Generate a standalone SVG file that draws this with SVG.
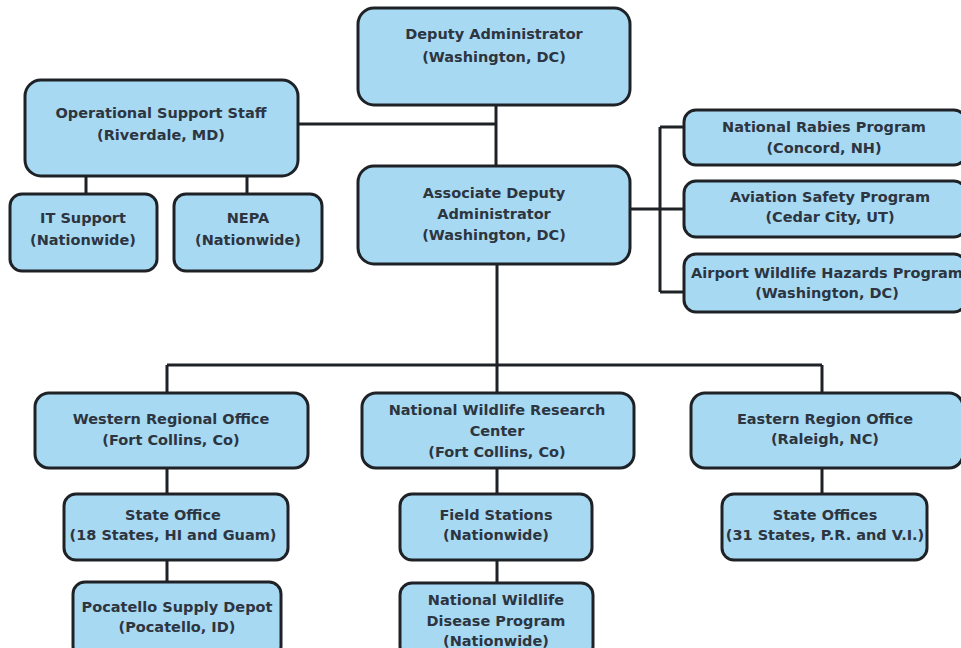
<svg xmlns="http://www.w3.org/2000/svg" width="961" height="648" viewBox="0 0 961 648">
<style>
.box{fill:#a8d9f3;stroke:#1e2226;stroke-width:3}
.t{font-family:"DejaVu Sans",Verdana,sans-serif;font-weight:bold;font-size:14.5px;fill:#2c3540;text-anchor:middle}
.ln{stroke:#1e2226;stroke-width:3;fill:none}
</style>
<rect width="961" height="648" fill="#ffffff"/>
<g id="connectors">
<path class="ln" d="M496 104V166"/>
<path class="ln" d="M298 124H496"/>
<path class="ln" d="M86 176V194M247 176V194"/>
<path class="ln" d="M630 209H684M660 127V292M660 127H684M660 292H684"/>
<path class="ln" d="M497 264V365M167 365H822M167 365V393M497 365V393M822 365V393"/>
<path class="ln" d="M167 468V494M167 560V582M497 468V494M497 560V583M822 468V494"/>
</g>
<g id="deputy"><rect class="box" x="358" y="8" width="272" height="97" rx="16"/><text class="t" x="494" y="39">Deputy Administrator</text><text class="t" x="494" y="62">(Washington, DC)</text></g>
<g id="oss"><rect class="box" x="25" y="80" width="273" height="96" rx="16"/><text class="t" x="161" y="118">Operational Support Staff</text><text class="t" x="161" y="140">(Riverdale, MD)</text></g>
<g id="it"><rect class="box" x="10" y="194" width="147" height="77" rx="12"/><text class="t" x="83" y="223">IT Support</text><text class="t" x="83" y="245">(Nationwide)</text></g>
<g id="nepa"><rect class="box" x="174" y="194" width="148" height="77" rx="12"/><text class="t" x="248" y="223">NEPA</text><text class="t" x="248" y="245">(Nationwide)</text></g>
<g id="associate"><rect class="box" x="358" y="166" width="272" height="98" rx="16"/><text class="t" x="494" y="198">Associate Deputy</text><text class="t" x="494" y="219">Administrator</text><text class="t" x="494" y="240">(Washington, DC)</text></g>
<g id="rabies"><rect class="box" x="684" y="110" width="282" height="55" rx="12"/><text class="t" x="824" y="132">National Rabies Program</text><text class="t" x="824" y="153">(Concord, NH)</text></g>
<g id="aviation"><rect class="box" x="684" y="181" width="282" height="56" rx="12"/><text class="t" x="830" y="202">Aviation Safety Program</text><text class="t" x="830" y="222">(Cedar City, UT)</text></g>
<g id="airport"><rect class="box" x="684" y="254" width="282" height="58" rx="12"/><text class="t" x="827" y="278">Airport Wildlife Hazards Program</text><text class="t" x="827" y="298">(Washington, DC)</text></g>
<g id="western"><rect class="box" x="35" y="393" width="273" height="75" rx="14"/><text class="t" x="171" y="424">Western Regional Office</text><text class="t" x="171" y="445">(Fort Collins, Co)</text></g>
<g id="nwrc"><rect class="box" x="362" y="393" width="272" height="75" rx="14"/><text class="t" x="497" y="415">National Wildlife Research</text><text class="t" x="497" y="436">Center</text><text class="t" x="497" y="457">(Fort Collins, Co)</text></g>
<g id="eastern"><rect class="box" x="691" y="393" width="272" height="75" rx="14"/><text class="t" x="825" y="424">Eastern Region Office</text><text class="t" x="825" y="444">(Raleigh, NC)</text></g>
<g id="stateoffice"><rect class="box" x="64" y="494" width="224" height="66" rx="12"/><text class="t" x="173" y="520">State Office</text><text class="t" x="173" y="540">(18 States, HI and Guam)</text></g>
<g id="fieldstations"><rect class="box" x="400" y="494" width="192" height="66" rx="12"/><text class="t" x="496" y="520">Field Stations</text><text class="t" x="496" y="540">(Nationwide)</text></g>
<g id="stateoffices"><rect class="box" x="722" y="494" width="205" height="66" rx="12"/><text class="t" x="825" y="520">State Offices</text><text class="t" x="825" y="540">(31 States, P.R. and V.I.)</text></g>
<g id="pocatello"><rect class="box" x="73" y="582" width="208" height="76" rx="12"/><text class="t" x="177" y="612">Pocatello Supply Depot</text><text class="t" x="177" y="632">(Pocatello, ID)</text></g>
<g id="nwdp"><rect class="box" x="400" y="583" width="193" height="75" rx="12"/><text class="t" x="496" y="605">National Wildlife</text><text class="t" x="496" y="626">Disease Program</text><text class="t" x="496" y="646">(Nationwide)</text></g>
</svg>
